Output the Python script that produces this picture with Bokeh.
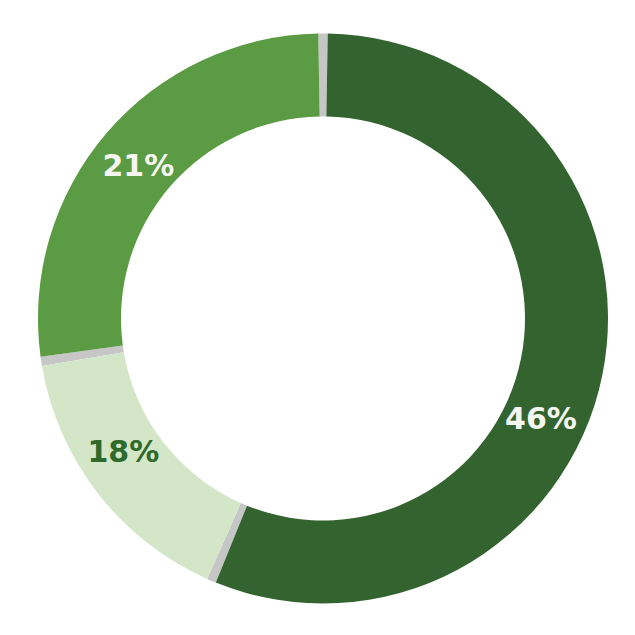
import math
from bokeh.plotting import figure
from bokeh.models import Range1d, ColumnDataSource
from bokeh.core.properties import value
from bokeh.embed import file_html
from bokeh.resources import INLINE

# Arc shares as drawn in the picture (percent of the full ring), clockwise from 12 o'clock
shares = [56.4, 16.2, 27.4]
# Printed labels
labels = ["46%", "18%", "21%"]
colors = ["#33632f", "#d3e6c8", "#5a9b43"]
label_colors = ["#f6f6f1", "#2f6a2b", "#f6f6f1"]

# layout / style
W = H = 619
CX, CY = 322.5, -318.0
R_OUT, R_IN = 285.0, 202.0
GAP = 1.9  # degrees
LABEL_R = 240.0
LABEL_FRAC = [0.565, 0.57, 0.49]

p = figure(width=W, height=H, output_backend="svg", toolbar_location=None,
           x_range=Range1d(0, W), y_range=Range1d(-H, 0),
           min_border=0, outline_line_color=None)
p.axis.visible = False
p.grid.visible = False
p.background_fill_color = "white"
p.border_fill_color = "white"

total = sum(shares)
starts, ends = [], []
acc = 0.0
for s in shares:
    starts.append(acc / total * 360.0)
    acc += s
    ends.append(acc / total * 360.0)

def to_bokeh(theta_deg):
    return math.pi / 2 - math.radians(theta_deg)

src = ColumnDataSource(dict(
    start=[to_bokeh(a + GAP / 2) for a in starts],
    end=[to_bokeh(b - GAP / 2) for b in ends],
    color=colors,
))
# gray separators at each boundary
sep = ColumnDataSource(dict(
    start=[to_bokeh(b - GAP / 2) for b in ends],
    end=[to_bokeh(b + GAP / 2) for b in ends],
))
p.annular_wedge(x=CX, y=CY, inner_radius=R_IN, outer_radius=R_OUT,
                start_angle="start", end_angle="end", direction="clock",
                fill_color="#c6c6c6", line_color=None, source=sep)
p.annular_wedge(x=CX, y=CY, inner_radius=R_IN, outer_radius=R_OUT,
                start_angle="start", end_angle="end", direction="clock",
                fill_color="color", line_color=None, source=src)

lx, ly = [], []
for a, b, f in zip(starts, ends, LABEL_FRAC):
    t = math.radians(a + f * (b - a))
    lx.append(CX + LABEL_R * math.sin(t))
    ly.append(CY + LABEL_R * math.cos(t))
lab = ColumnDataSource(dict(x=lx, y=ly, text=labels, color=label_colors))
p.text(x="x", y="y", text="text", text_color="color", source=lab,
       text_font=value("DejaVu Sans"), text_font_style="bold",
       text_font_size="30px", text_align="center", text_baseline="middle")

open("out.html", "w").write(file_html(p, INLINE))
